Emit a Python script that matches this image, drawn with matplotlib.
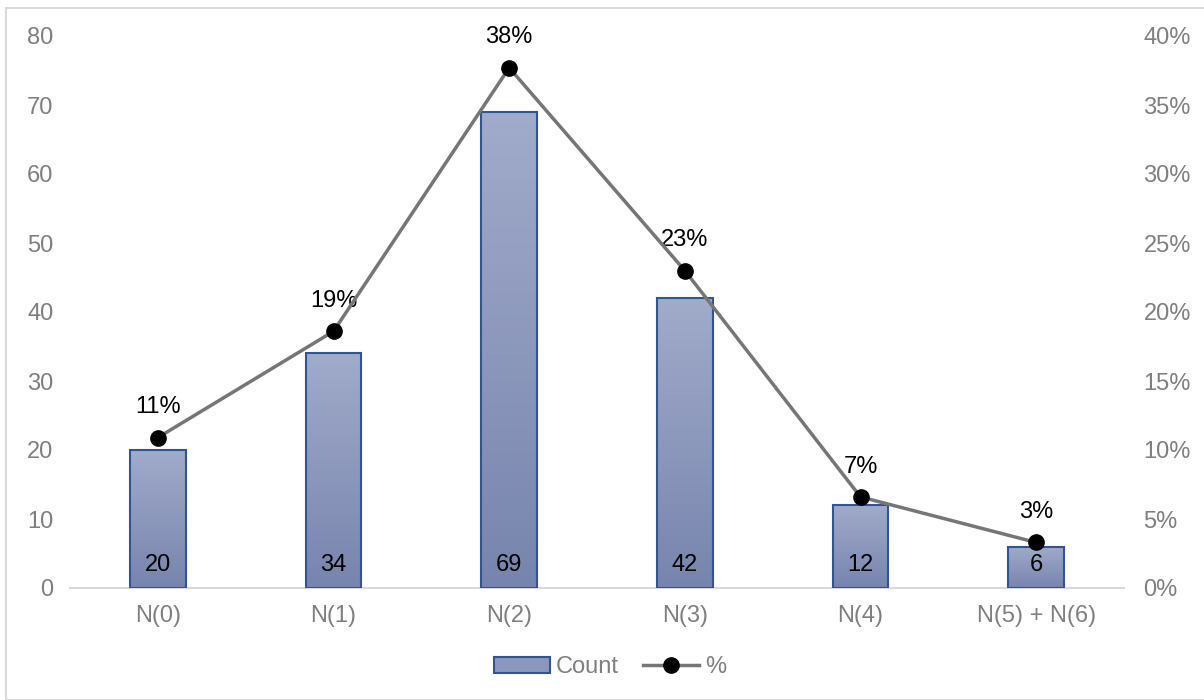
import numpy as np
import matplotlib
matplotlib.use("Agg")
import matplotlib.pyplot as plt
from matplotlib.colors import LinearSegmentedColormap
from matplotlib.patches import Patch, Rectangle
from matplotlib.lines import Line2D
from matplotlib.ticker import FuncFormatter, MultipleLocator

plt.rcParams['font.family'] = ['Liberation Sans', 'DejaVu Sans']

categories = ["N(0)", "N(1)", "N(2)", "N(3)", "N(4)", "N(5) + N(6)"]
counts = [20, 34, 69, 42, 12, 6]
percents = [10.9, 18.6, 37.7, 23.0, 6.6, 3.3]

GRAY_TXT = "#7f7f7f"
EDGE = "#2f5597"
TOP_C = "#a1abca"
BOT_C = "#7784ad"
LINE_C = "#767676"
FS = 17

fig = plt.figure(figsize=(12.04, 7.0), dpi=100)
ax = fig.add_axes([70 / 1204, 1 - 588 / 700, (1124 - 70) / 1204, (588 - 36) / 700])

x = np.arange(len(categories))
width = 0.315
cmap = LinearSegmentedColormap.from_list("bar", [BOT_C, TOP_C])
grad = np.linspace(0, 1, 256).reshape(-1, 1)

# bars with a vertical gradient fill, count labels near the base
for xi, c in zip(x, counts):
    ax.imshow(grad, extent=[xi - width / 2, xi + width / 2, 0, c], origin="lower",
              aspect="auto", cmap=cmap, zorder=2)
    ax.add_patch(Rectangle((xi - width / 2, 0), width, c, facecolor="none",
                           edgecolor=EDGE, linewidth=1.5, zorder=3))
    ax.text(xi, 3.3, f"{c}", ha="center", va="center", fontsize=FS, color="black", zorder=4)

ax.set_xlim(-0.5, len(categories) - 0.5)
ax.set_ylim(0, 80)
ax.yaxis.set_major_locator(MultipleLocator(10))
ax.set_xticks(x)
ax.set_xticklabels(categories)
ax.tick_params(axis="both", length=0, labelsize=FS, labelcolor=GRAY_TXT)
ax.tick_params(axis="x", pad=12)
ax.tick_params(axis="y", pad=12)
for side in ["top", "right", "left"]:
    ax.spines[side].set_visible(False)
ax.spines["bottom"].set_color("#d9d9d9")
ax.spines["bottom"].set_linewidth(1.5)
ax.spines["bottom"].set_zorder(1)

# percentage line on the secondary axis
ax2 = ax.twinx()
ax2.plot(x, percents, color=LINE_C, linewidth=2.5, marker="o", markersize=11,
         markerfacecolor="black", markeredgecolor="black", zorder=5)
for xi, p in zip(x, percents):
    ax2.text(xi, p + 2.2, f"{p:.0f}%", ha="center", va="center", fontsize=FS, color="black")
ax2.set_ylim(0, 40)
ax2.yaxis.set_major_locator(MultipleLocator(5))
ax2.yaxis.set_major_formatter(FuncFormatter(lambda v, _: f"{v:.0f}%"))
ax2.tick_params(axis="y", length=0, labelsize=FS, labelcolor=GRAY_TXT, pad=14)
for side in ["top", "right", "left", "bottom"]:
    ax2.spines[side].set_visible(False)

handles = [
    Patch(facecolor="#8c97bc", edgecolor=EDGE, linewidth=1.5),
    Line2D([0], [0], color=LINE_C, linewidth=2.5, marker="o", markersize=11,
           markerfacecolor="black", markeredgecolor="black"),
]
leg = fig.legend(handles, ["Count", "%"], loc="center", bbox_to_anchor=(610 / 1204, 1 - 667 / 700),
                 ncol=2, frameon=False, fontsize=FS, handlelength=2.4, handleheight=0.65,
                 handletextpad=0.25, columnspacing=1.0)
for t in leg.get_texts():
    t.set_color(GRAY_TXT)

# outer chart border
fig.add_artist(Rectangle((6 / 1204, 0), 1, 1 - 8 / 700, transform=fig.transFigure,
                         facecolor="none", edgecolor="#d9d9d9", linewidth=1.5))

fig.savefig("out.png", dpi=100)
